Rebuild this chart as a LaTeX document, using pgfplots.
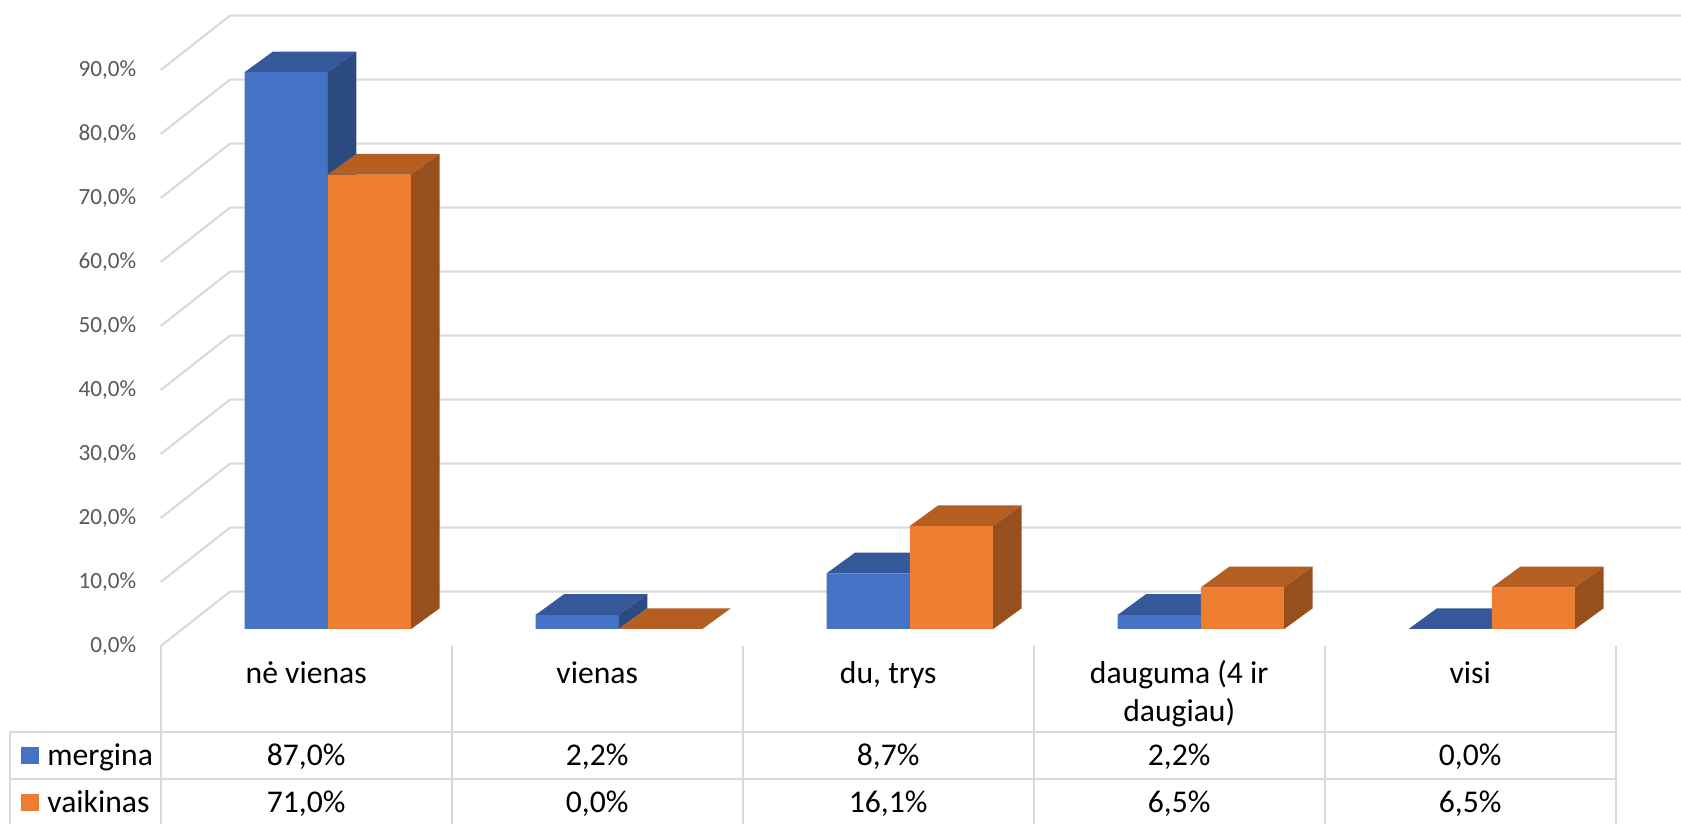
\documentclass[border=0pt]{standalone}
\usepackage{pgfplots}
\pgfplotsset{compat=1.18}
\usepackage{pgfplotstable}
\usepackage{fontspec}
\setmainfont{Carlito}

\definecolor{cM}{HTML}{4472C4}
\definecolor{cV}{HTML}{ED7D31}
\definecolor{mTop}{HTML}{34589A}
\definecolor{mSide}{HTML}{2B4A80}
\definecolor{vTop}{HTML}{B55E22}
\definecolor{vSide}{HTML}{974F1E}
\definecolor{gridc}{HTML}{D9D9D9}
\definecolor{ytxt}{HTML}{595959}

\pgfplotstableread{
cat m v
0 87.0 71.0
1 2.2 0.0
2 8.7 16.1
3 2.2 6.5
4 0.0 6.5
}\data

\newdimen\barh
\def\hval{0}

% top and side faces of a 3D bar, origin = centre of the front top edge
\pgfdeclareplotmark{bar3dM}{%
  \pgfmathsetlength{\barh}{\hval*0.064cm}%
  \pgfpathmoveto{\pgfqpoint{-0.4166cm}{0pt}}%
  \pgfpathlineto{\pgfqpoint{0.4166cm}{0pt}}%
  \pgfpathlineto{\pgfqpoint{0.7006cm}{0.207cm}}%
  \pgfpathlineto{\pgfqpoint{-0.1326cm}{0.207cm}}%
  \pgfpathclose
  \pgfsetfillcolor{mTop}\pgfusepath{fill}%
  \pgfpathmoveto{\pgfqpoint{0.4166cm}{0pt}}%
  \pgfpathlineto{\pgfqpoint{0.7006cm}{0.207cm}}%
  \pgfpathlineto{\pgfqpoint{0.7006cm}{\dimexpr0.207cm-\barh\relax}}%
  \pgfpathlineto{\pgfqpoint{0.4166cm}{-\barh}}%
  \pgfpathclose
  \pgfsetfillcolor{mSide}\pgfusepath{fill}%
}
\pgfdeclareplotmark{bar3dV}{%
  \pgfmathsetlength{\barh}{\hval*0.064cm}%
  \pgfpathmoveto{\pgfqpoint{-0.4166cm}{0pt}}%
  \pgfpathlineto{\pgfqpoint{0.4166cm}{0pt}}%
  \pgfpathlineto{\pgfqpoint{0.7006cm}{0.207cm}}%
  \pgfpathlineto{\pgfqpoint{-0.1326cm}{0.207cm}}%
  \pgfpathclose
  \pgfsetfillcolor{vTop}\pgfusepath{fill}%
  \pgfpathmoveto{\pgfqpoint{0.4166cm}{0pt}}%
  \pgfpathlineto{\pgfqpoint{0.7006cm}{0.207cm}}%
  \pgfpathlineto{\pgfqpoint{0.7006cm}{\dimexpr0.207cm-\barh\relax}}%
  \pgfpathlineto{\pgfqpoint{0.4166cm}{-\barh}}%
  \pgfpathclose
  \pgfsetfillcolor{vSide}\pgfusepath{fill}%
}

\pgfplotsset{baraxis/.style={
  at={(1.824cm,1.95cm)}, anchor=south west,
  scale only axis, width=14.55cm, height=5.76cm,
  xmin=-0.5, xmax=4.5, ymin=0, ymax=90,
  hide axis, clip=false}}

\begin{document}
\begin{tikzpicture}
\path[use as bounding box] (0,0) rectangle (16.81,8.24);
\clip (0,0) rectangle (16.81,8.24);

% front plane axis: y tick labels
\begin{axis}[
  at={(1.607cm,1.78cm)}, anchor=south west,
  scale only axis, width=14.55cm, height=5.76cm,
  xmin=-0.5, xmax=4.5, ymin=0, ymax=90,
  xtick=\empty, ytick={0,10,...,90},
  axis line style={draw=none}, major tick length=0pt,
  clip=false,
  yticklabel={\pgfmathprintnumber[assume math mode=true,fixed,fixed zerofill,precision=1,use comma]{\tick}\%},
  yticklabel style={font=\fontsize{6.6}{8}\selectfont, text=ytxt, anchor=east, inner sep=0pt, xshift=-0.237cm},
]
\addplot[draw=none] coordinates {(0,0)};
\end{axis}

% walls: side wall diagonals, back wall, floor
\foreach \k in {0,...,9}{
  \draw[gridc, line width=0.6pt] (1.607, {1.78+0.64*\k}) -- ++(0.693,0.543) -- ++(14.6,0);
}

% bars: mergina (drawn first, behind)
\begin{axis}[baraxis]
\addplot[scatter, only marks, mark=bar3dM,
  visualization depends on={\thisrow{m} \as \hval}]
  table[x expr=\coordindex-0.14315, y=m] {\data};
\addplot[ybar, bar width=0.2863, bar shift=-0.14315, fill=cM, draw=none]
  table[x expr=\coordindex, y=m] {\data};
\end{axis}

% bars: vaikinas (in front)
\begin{axis}[baraxis]
\addplot[scatter, only marks, mark=bar3dV,
  visualization depends on={\thisrow{v} \as \hval}]
  table[x expr=\coordindex+0.14315, y=v] {\data};
\addplot[ybar, bar width=0.2863, bar shift=0.14315, fill=cV, draw=none]
  table[x expr=\coordindex, y=v] {\data};
\end{axis}

% data table
\foreach \k in {0,...,5}{
  \draw[gridc, line width=0.6pt] ({1.607+2.91*\k},1.78) -- ({1.607+2.91*\k},0);
}
\draw[gridc, line width=0.6pt] (0.10,0.923) -- (0.10,0);
\draw[gridc, line width=0.6pt] (0.10,0.923) -- (16.157,0.923);
\draw[gridc, line width=0.6pt] (0.10,0.447) -- (16.157,0.447);

\begin{scope}[every node/.style={font=\fontsize{9}{11}\selectfont, inner sep=0pt, anchor=base}]
\node at (3.062,1.40) {nė vienas};
\node at (5.972,1.40) {vienas};
\node at (8.882,1.40) {du, trys};
\node at (11.792,1.40) {dauguma (4 ir};
\node at (11.792,1.023) {daugiau)};
\node at (14.702,1.40) {visi};

\node at (3.062,0.583) {87,0\%};
\node at (5.972,0.583) {2,2\%};
\node at (8.882,0.583) {8,7\%};
\node at (11.792,0.583) {2,2\%};
\node at (14.702,0.583) {0,0\%};

\node at (3.062,0.11) {71,0\%};
\node at (5.972,0.11) {0,0\%};
\node at (8.882,0.11) {16,1\%};
\node at (11.792,0.11) {6,5\%};
\node at (14.702,0.11) {6,5\%};

\fill[cM] (0.21,0.60) rectangle (0.39,0.773);
\fill[cV] (0.21,0.127) rectangle (0.39,0.30);
\node[anchor=base west] at (0.467,0.583) {mergina};
\node[anchor=base west] at (0.467,0.11) {vaikinas};
\end{scope}
\end{tikzpicture}
\end{document}
